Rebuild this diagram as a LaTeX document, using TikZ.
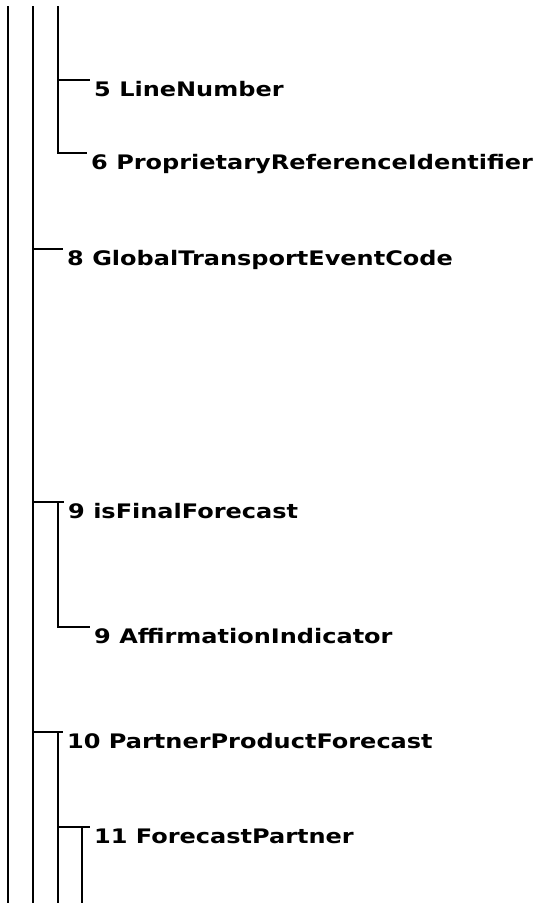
\documentclass[tikz,border=0pt]{standalone}
\usepackage{fontspec}
\newfontfamily\labelfont[FakeStretch=1.2]{DejaVu Sans}
\tikzset{
  item/.style = {anchor=north west,inner xsep=4pt,inner ysep=0pt,text height=16pt,text depth=4pt,font=\labelfont\bfseries\fontsize{20}{22}\selectfont,text=black},
  edge/.style = {line width=2.5,black},
}

\begin{document}
\begin{tikzpicture}[x=1pt,y=-1pt]
    \useasboundingbox (0,0) rectangle (542,903);

    \coordinate (top1) at (8,6);
    \coordinate (bot1) at (8,903);
    \coordinate (top2) at (33,6);
    \coordinate (bot2) at (33,903);
    \coordinate (top3) at (58,6);
    \coordinate (bot3) at (58,903);
    \coordinate (bot4) at (82,903);

    \node[item] at (90,80) (line) {5 LineNumber};
    \node[item] at (87,153) (propref) {6 ProprietaryReferenceIdentifier};
    \node[item] at (63,249) (event) {8 GlobalTransportEventCode};
    \node[item] at (64,502) (final) {9 isFinalForecast};
    \node[item] at (90,627) (affirm) {9 AffirmationIndicator};
    \node[item] at (63,732) (forecast) {10 PartnerProductForecast};
    \node[item] at (90,827) (partner) {11 ForecastPartner};

    \draw[edge] (top1) -- (bot1);
    \draw[edge] (top2) -- (bot2);

    \draw[edge] (top3) |- (propref.north west);
    \draw[edge] (top3 |- line.north west) -- (line.north west);

    \draw[edge] (top2 |- event.north west) -- (event.north west);

    \draw[edge] (top2 |- final.north west) -- (final.north west);
    \draw[edge] (top3 |- final.north west) |- (affirm.north west);

    \draw[edge] (top2 |- forecast.north west) -- (forecast.north west);
    \draw[edge] (top3 |- forecast.north west) -- (bot3);
    \draw[edge] (top3 |- partner.north west) -- (partner.north west);
    \draw[edge] (bot4 |- partner.north west) -- (bot4);

\end{tikzpicture}
\end{document}
